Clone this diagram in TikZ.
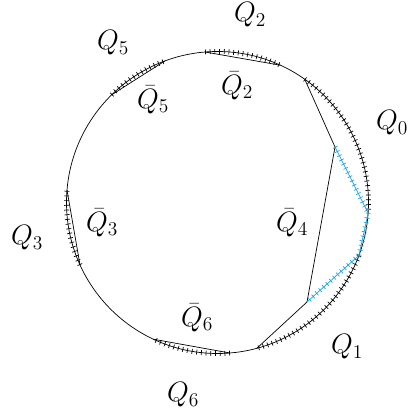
\documentclass[tikz,border=0pt]{standalone}
\definecolor{tickblue}{RGB}{27,161,226}
\tikzset{
  thin line/.style={line width=0.7pt},
  tickmarks/.style={line width=5pt, dash pattern=on 0.7pt off 4pt},
  lab/.style={font=\huge, scale=1.35, inner sep=0pt}
}
\begin{document}
\begin{tikzpicture}[x=1pt,y=1pt]
\useasboundingbox (0,0) rectangle (407,412);
\coordinate (C) at (217.5,209.5);
\def\R{151}
% points on the circle
\coordinate (a) at ([shift={(94.7:\R)}]C);
\coordinate (b) at ([shift={(65.4:\R)}]C);
\coordinate (c) at ([shift={(54.7:\R)}]C);
\coordinate (d) at ([shift={(-4:\R)}]C);
\coordinate (e) at ([shift={(-20.5:\R)}]C);
\coordinate (f) at ([shift={(-74.9:\R)}]C);
\coordinate (g) at ([shift={(-85.3:\R)}]C);
\coordinate (h) at ([shift={(-115.1:\R)}]C);
\coordinate (i) at ([shift={(-155.6:\R)}]C);
\coordinate (j) at ([shift={(175.3:\R)}]C);
\coordinate (k) at ([shift={(134.5:\R)}]C);
\coordinate (l) at ([shift={(110.4:\R)}]C);
% interior points
\coordinate (u) at (335,265);
\coordinate (v) at (307,110);
% circle
\draw[thin line] (C) circle (\R);
% hatched arcs
\draw[tickmarks] (a) arc (94.7:65.4:\R);
\draw[tickmarks] (c) arc (54.7:-4:\R);
\draw[tickmarks] (e) arc (-20.5:-74.9:\R);
\draw[tickmarks] (g) arc (-85.3:-115.1:\R);
\draw[tickmarks] (i) arc (-155.6:-184.7:\R);
\draw[tickmarks] (k) arc (134.5:110.4:\R);
% chords
\draw[thin line] (a) -- (b);
\draw[thin line] (c) -- (u);
\draw[thin line] (u) -- (v);
\draw[thin line] (v) -- (f);
\draw[thin line] (g) -- (h);
\draw[thin line] (i) -- (j);
\draw[thin line] (k) -- (l);
% blue chords
\draw[thin line, tickblue] (u) -- (d) -- (e) -- (v);
\draw[tickmarks, tickblue] (u) -- (d);
\draw[tickmarks, tickblue] (d) -- (e);
\draw[tickmarks, tickblue] (e) -- (v);
% labels
\node[lab] (q2) at (250,397) {$Q_2$};
\node[lab] (q5) at (113,369) {$Q_5$};
\node[lab] (qb2) at (237,326) {$\bar{Q}_2$};
\node[lab] (qb5) at (153,312) {$\bar{Q}_5$};
\node[lab] (q0) at (392,289) {$Q_0$};
\node[lab] (qb3) at (102,189) {$\bar{Q}_3$};
\node[lab] (q3) at (27,174) {$Q_3$};
\node[lab] (qb4) at (292,189) {$\bar{Q}_4$};
\node[lab] (qb6) at (197,94) {$\bar{Q}_6$};
\node[lab] (q1) at (347,65) {$Q_1$};
\node[lab] (q6) at (183,17) {$Q_6$};
\end{tikzpicture}
\end{document}
